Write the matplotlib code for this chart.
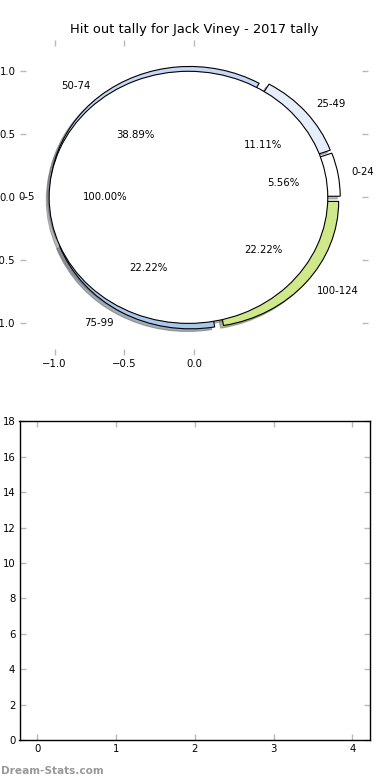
import matplotlib
matplotlib.use('Agg')
import matplotlib.pyplot as plt

title = "Hit out tally for Jack Viney - 2017 tally"
ring_labels = ['0-24', '25-49', '50-74', '75-99', '100-124']
ring_counts = [1, 2, 7, 4, 4]
ring_colors = ['#ffffff', '#e6eefc', '#c6d8f5', '#a9c8ee', '#cfe88a']
inner_labels = ['0-5']
inner_counts = [18]
inner_colors = ['#ffffff']
pie_xticks = [-1.0, -0.5, 0.0]
pie_yticks = [-1.0, -0.5, 0.0, 0.5, 1.0]
bar_positions = [0, 1, 2, 3, 4]
bar_values = [0, 0, 0, 0, 0]
bar_yticks = list(range(0, 19, 2))
bar_ymax = 18
watermark = 'Dream-Stats.com'

TICK_GREY = '#b8b8b8'
FS = 7.3

fig = plt.figure(figsize=(3.9, 7.8), dpi=100)

# ---------- top: pie ----------
ax1 = fig.add_axes([0.051, 0.545, 0.893, 0.404])
wp = dict(edgecolor='black', linewidth=0.8)
shadow_kw = dict(ox=-0.015, oy=-0.015, shade=0.55)
ax1.pie(ring_counts, labels=ring_labels, colors=ring_colors,
        explode=[0.05] * len(ring_counts), autopct='%.2f%%', shadow=shadow_kw,
        startangle=0, radius=1.0, wedgeprops=wp,
        textprops=dict(fontsize=FS, color='black'), frame=True)
ax1.pie(inner_counts, labels=inner_labels, colors=inner_colors,
        explode=[0.04] * len(inner_counts), autopct='%.2f%%', shadow=shadow_kw,
        startangle=0, radius=1.0, wedgeprops=wp,
        textprops=dict(fontsize=FS, color='black'), frame=True)
ax1.set_aspect('auto')
ax1.set_xlim(-1.25, 1.25)
ax1.set_ylim(-1.25, 1.25)
ax1.set_xticks(pie_xticks)
ax1.set_yticks(pie_yticks)
ax1.set_frame_on(False)
ax1.tick_params(direction='in', length=4, width=1, color=TICK_GREY,
                top=True, right=True, labelsize=FS, pad=3)
ax1.set_title(title, fontsize=9.4, pad=5)

# ---------- bottom: empty bar chart ----------
ax2 = fig.add_axes([0.05, 0.051, 0.899, 0.409])
ax2.bar(bar_positions, bar_values, width=0.45, color='#c6d8f5', edgecolor='none')
ax2.margins(x=0)
ax2.set_ylim(0, bar_ymax)
ax2.set_yticks(bar_yticks)
ax2.set_xticks(bar_positions)
for s in ax2.spines.values():
    s.set_color('black')
    s.set_linewidth(1.0)
ax2.tick_params(direction='in', length=4, width=1, color=TICK_GREY,
                top=True, right=True, labelsize=FS, pad=3)

fig.text(0.002, 0.005, watermark, color='#999999', fontsize=7.6,
         fontweight='bold', ha='left', va='bottom')

fig.savefig('out.png', dpi=100)
